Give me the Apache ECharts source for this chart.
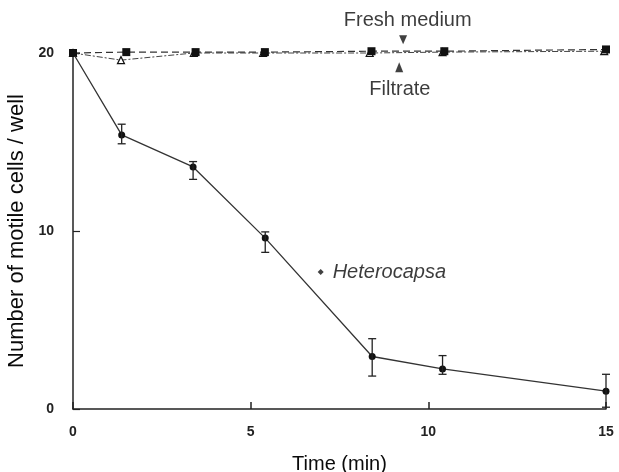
<!DOCTYPE html>
<html>
<head>
<meta charset="utf-8">
<script src="https://cdn.jsdelivr.net/npm/echarts@6/dist/echarts.min.js"></script>
<style>html,body{margin:0;padding:0;background:#fff}#c{width:619px;height:472px}</style>
</head>
<body>
<div id="c"></div>
<script>
// Heterocapsa series
var timeH = [0, 1.37, 3.38, 5.41, 8.42, 10.4, 15];
var cellsH = [20, 15.4, 13.6, 9.6, 2.95, 2.25, 1.0];
var errLowH = [null, 14.9, 12.9, 8.8, 1.85, 1.95, 0.1];
var errHighH = [null, 16.0, 13.9, 9.95, 3.95, 3.0, 1.95];
// Fresh medium series
var timeFresh = [0, 1.5, 3.45, 5.4, 8.4, 10.45, 15];
var cellsFresh = [20, 20.05, 20.05, 20.05, 20.1, 20.1, 20.2];
// Filtrate series
var timeFiltrate = [0, 1.35, 3.4, 5.35, 8.35, 10.4, 14.95];
var cellsFiltrate = [20, 19.6, 20, 20, 20, 20.05, 20.1];
// Tick labels
var xTicks = [0, 5, 10, 15];
var yTicks = [0, 10, 20];
// Annotations [x, y, text]
var annFresh = [9.42, 21.85, 'Fresh medium'];
var annFreshArrow = [9.29, 20.75];
var annFiltrate = [9.2, 17.95, 'Filtrate'];
var annFiltrateArrow = [9.18, 19.2];
var annHetero = [6.97, 7.7, 'Heterocapsa'];

function pairs(xs, ys) { return xs.map(function (x, i) { return [x, ys[i]]; }); }

var errData = [];
timeH.forEach(function (t, i) {
  if (errLowH[i] != null) errData.push([t, errLowH[i], errHighH[i]]);
});

var font = 'Liberation Sans, Arial, sans-serif';
var txt = '#0a0a0a';
var chart = echarts.init(document.getElementById('c'));
chart.setOption({
  animation: false,
  backgroundColor: '#fff',
  grid: { left: 73, right: 13, top: 53, bottom: 63, containLabel: false, outerBoundsMode: 'none' },
  xAxis: {
    type: 'value', min: 0, max: 15, interval: 5,
    name: 'Time (min)', nameLocation: 'middle', nameGap: 45,
    nameTextStyle: { fontFamily: font, fontSize: 20, color: txt },
    axisLine: { show: true, lineStyle: { color: '#222', width: 1.5 } },
    axisTick: { show: true, inside: true, length: 7, lineStyle: { color: '#222', width: 1.5 } },
    axisLabel: { margin: 16, fontFamily: font, fontSize: 14, fontWeight: 'bold', color: '#222',
      formatter: function (v) { return xTicks.indexOf(v) >= 0 ? String(v) : ''; } },
    splitLine: { show: false }
  },
  yAxis: {
    type: 'value', min: 0, max: 20, interval: 10,
    name: 'Number of motile cells / well', nameLocation: 'middle', nameGap: 40,
    nameTextStyle: { fontFamily: font, fontSize: 22, color: txt },
    axisLine: { show: true, lineStyle: { color: '#222', width: 1.5 } },
    axisTick: { show: true, inside: true, length: 7, lineStyle: { color: '#222', width: 1.2 } },
    axisLabel: { margin: 19, fontFamily: font, fontSize: 14, fontWeight: 'bold', color: '#222',
      formatter: function (v) { return yTicks.indexOf(v) >= 0 ? String(v) : ''; } },
    splitLine: { show: false }
  },
  series: [
    {
      name: 'Fresh medium', type: 'line', data: pairs(timeFresh, cellsFresh),
      symbol: 'rect', symbolSize: 8, itemStyle: { color: '#111' },
      lineStyle: { color: '#333', width: 1.2, type: [7, 4] }, clip: false, z: 3
    },
    {
      name: 'Filtrate', type: 'line', data: pairs(timeFiltrate, cellsFiltrate),
      symbol: 'triangle', symbolSize: 7, showAllSymbol: true,
      itemStyle: { color: '#fff', borderColor: '#111', borderWidth: 1.2 },
      lineStyle: { color: '#444', width: 1, type: [6, 2, 2, 2] }, clip: false, z: 2
    },
    {
      name: 'Heterocapsa', type: 'line', data: pairs(timeH, cellsH),
      symbol: 'circle', symbolSize: 7, itemStyle: { color: '#111' },
      lineStyle: { color: '#333', width: 1.3 }, clip: false, z: 4
    },
    {
      name: 'err', type: 'custom', data: errData, clip: false, z: 5,
      renderItem: function (params, api) {
        var x = api.value(0);
        var lo = api.coord([x, api.value(1)]);
        var hi = api.coord([x, api.value(2)]);
        var w = 4;
        var st = { stroke: '#222', lineWidth: 1.3 };
        return { type: 'group', children: [
          { type: 'line', shape: { x1: lo[0], y1: lo[1], x2: hi[0], y2: hi[1] }, style: st },
          { type: 'line', shape: { x1: lo[0] - w, y1: lo[1], x2: lo[0] + w, y2: lo[1] }, style: st },
          { type: 'line', shape: { x1: hi[0] - w, y1: hi[1], x2: hi[0] + w, y2: hi[1] }, style: st }
        ]};
      }
    },
    {
      name: 'annotations', type: 'scatter', clip: false, silent: true, z: 6,
      data: [
        { value: [annFresh[0], annFresh[1]], symbol: 'circle', symbolSize: 1, itemStyle: { color: 'rgba(0,0,0,0)' },
          label: { show: true, position: 'inside', formatter: annFresh[2], fontFamily: font, fontSize: 20, color: txt } },
        { value: annFreshArrow, symbol: 'triangle', symbolRotate: 180, symbolSize: [8, 9], itemStyle: { color: '#111' } },
        { value: [annFiltrate[0], annFiltrate[1]], symbol: 'circle', symbolSize: 1, itemStyle: { color: 'rgba(0,0,0,0)' },
          label: { show: true, position: 'inside', formatter: annFiltrate[2], fontFamily: font, fontSize: 20, color: txt } },
        { value: annFiltrateArrow, symbol: 'triangle', symbolSize: [8, 10], itemStyle: { color: '#111' } },
        { value: [annHetero[0], annHetero[1]], symbol: 'diamond', symbolSize: 6, itemStyle: { color: '#111' },
          label: { show: true, position: 'right', distance: 9, formatter: annHetero[2], fontFamily: font, fontSize: 20, fontStyle: 'italic', color: txt } }
      ]
    }
  ]
});
</script>
</body>
</html>
